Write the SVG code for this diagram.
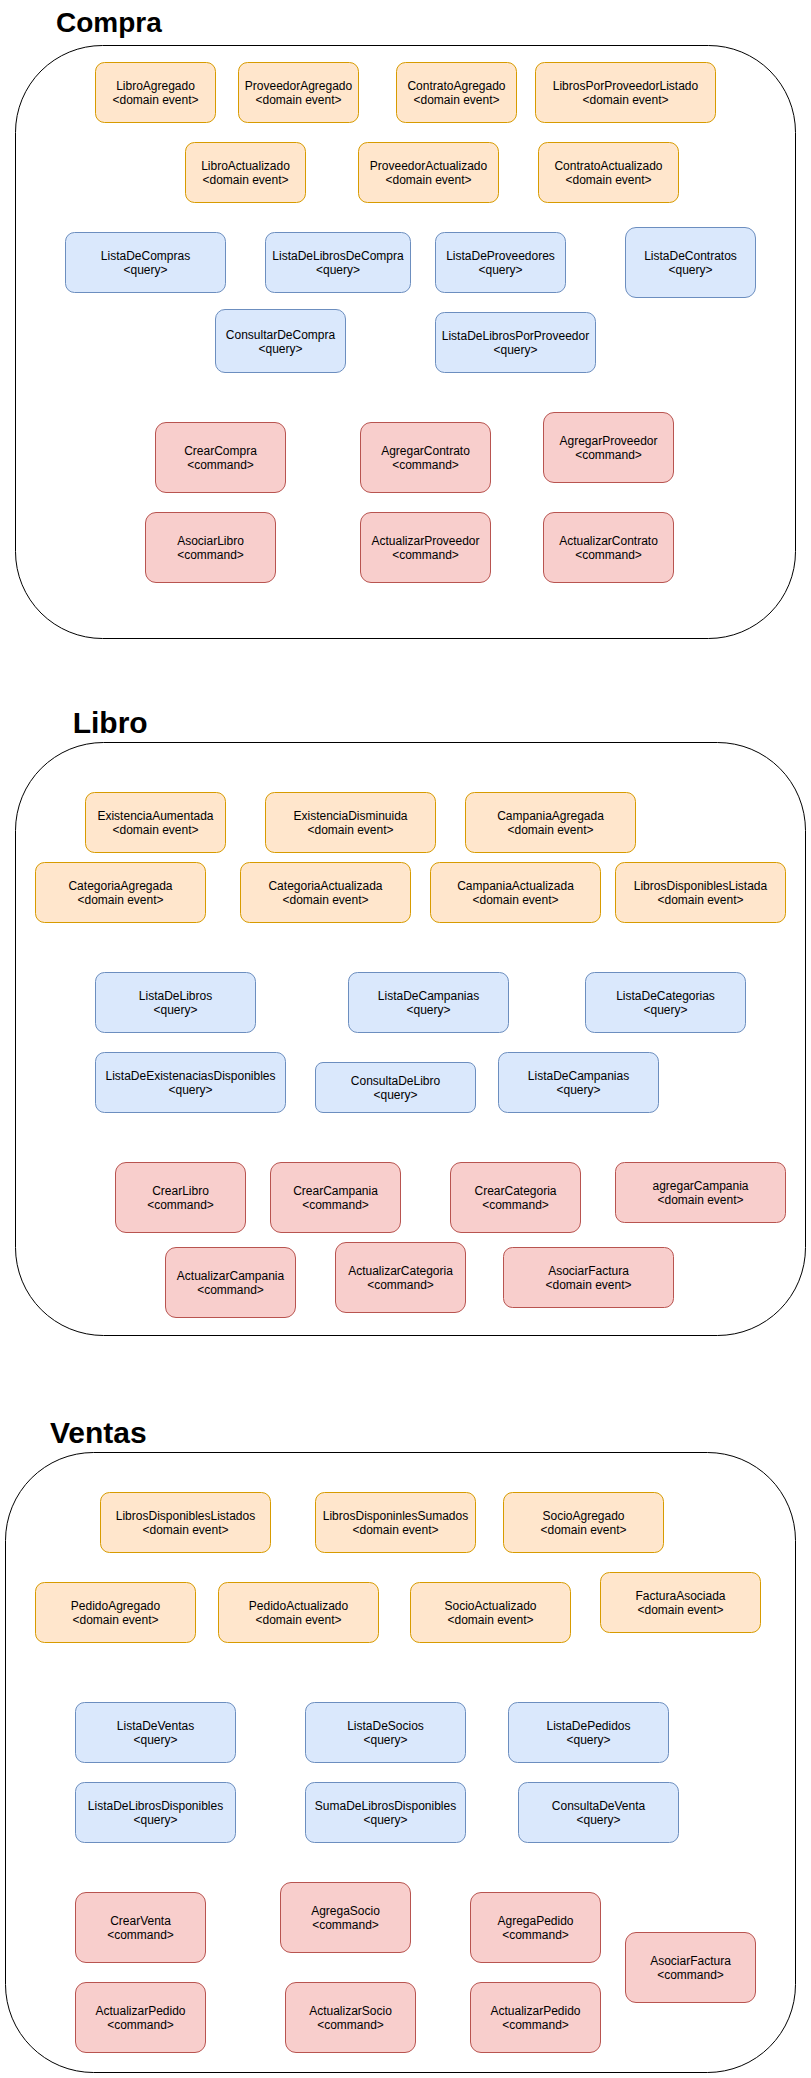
<svg xmlns="http://www.w3.org/2000/svg" width="811" height="2078" viewBox="0 0 811 2078">
<style>
.bg{fill:#ffffff}
.ctr{fill:#ffffff;stroke:#000000;stroke-width:1}
.title{font-family:"Liberation Sans",Arial,Helvetica,sans-serif;font-weight:bold;fill:#000000}
.ev{fill:#ffe6cc;stroke:#d79b00;stroke-width:1}
.q{fill:#dae8fc;stroke:#6c8ebf;stroke-width:1}
.cmd{fill:#f8cecc;stroke:#b85450;stroke-width:1}
.t{font-family:"Liberation Sans",Arial,Helvetica,sans-serif;font-size:12px;fill:#000000;text-anchor:middle}
</style>
<rect class="bg" x="0" y="0" width="811" height="2078"/>

<!-- ===== Compra ===== -->
<g id="compra">
<text class="title" x="56" y="32.3" font-size="28">Compra</text>
<rect class="ctr" x="15.5" y="45.5" width="780" height="593" rx="87" ry="87"/>
</g>
<g id="c-LibroAgregado"><rect class="ev" x="95.5" y="62.5" width="120" height="60" rx="9"/><text class="t"><tspan x="155.5" y="90.3">LibroAgregado</tspan><tspan x="155.5" y="104.3">&lt;domain event&gt;</tspan></text></g>
<g id="c-ProveedorAgregado"><rect class="ev" x="238.5" y="62.5" width="120" height="60" rx="9"/><text class="t"><tspan x="298.5" y="90.3">ProveedorAgregado</tspan><tspan x="298.5" y="104.3">&lt;domain event&gt;</tspan></text></g>
<g id="c-ContratoAgregado"><rect class="ev" x="396.5" y="62.5" width="120" height="60" rx="9"/><text class="t"><tspan x="456.5" y="90.3">ContratoAgregado</tspan><tspan x="456.5" y="104.3">&lt;domain event&gt;</tspan></text></g>
<g id="c-LibrosPorProveedorListado"><rect class="ev" x="535.5" y="62.5" width="180" height="60" rx="9"/><text class="t"><tspan x="625.5" y="90.3">LibrosPorProveedorListado</tspan><tspan x="625.5" y="104.3">&lt;domain event&gt;</tspan></text></g>
<g id="c-LibroActualizado"><rect class="ev" x="185.5" y="142.5" width="120" height="60" rx="9"/><text class="t"><tspan x="245.5" y="170.3">LibroActualizado</tspan><tspan x="245.5" y="184.3">&lt;domain event&gt;</tspan></text></g>
<g id="c-ProveedorActualizado"><rect class="ev" x="358.5" y="142.5" width="140" height="60" rx="9"/><text class="t"><tspan x="428.5" y="170.3">ProveedorActualizado</tspan><tspan x="428.5" y="184.3">&lt;domain event&gt;</tspan></text></g>
<g id="c-ContratoActualizado"><rect class="ev" x="538.5" y="142.5" width="140" height="60" rx="9"/><text class="t"><tspan x="608.5" y="170.3">ContratoActualizado</tspan><tspan x="608.5" y="184.3">&lt;domain event&gt;</tspan></text></g>
<g id="c-ListaDeCompras"><rect class="q" x="65.5" y="232.5" width="160" height="60" rx="9"/><text class="t"><tspan x="145.5" y="260.3">ListaDeCompras</tspan><tspan x="145.5" y="274.3">&lt;query&gt;</tspan></text></g>
<g id="c-ListaDeLibrosDeCompra"><rect class="q" x="265.5" y="232.5" width="145" height="60" rx="9"/><text class="t"><tspan x="338" y="260.3">ListaDeLibrosDeCompra</tspan><tspan x="338" y="274.3">&lt;query&gt;</tspan></text></g>
<g id="c-ListaDeProveedores"><rect class="q" x="435.5" y="232.5" width="130" height="60" rx="9"/><text class="t"><tspan x="500.5" y="260.3">ListaDeProveedores</tspan><tspan x="500.5" y="274.3">&lt;query&gt;</tspan></text></g>
<g id="c-ListaDeContratos"><rect class="q" x="625.5" y="227.5" width="130" height="70" rx="10.5"/><text class="t"><tspan x="690.5" y="260.3">ListaDeContratos</tspan><tspan x="690.5" y="274.3">&lt;query&gt;</tspan></text></g>
<g id="c-ConsultarDeCompra"><rect class="q" x="215.5" y="309.5" width="130" height="63" rx="9.5"/><text class="t"><tspan x="280.5" y="338.8">ConsultarDeCompra</tspan><tspan x="280.5" y="352.8">&lt;query&gt;</tspan></text></g>
<g id="c-ListaDeLibrosPorProveedor"><rect class="q" x="435.5" y="312.5" width="160" height="60" rx="9"/><text class="t"><tspan x="515.5" y="340.3">ListaDeLibrosPorProveedor</tspan><tspan x="515.5" y="354.3">&lt;query&gt;</tspan></text></g>
<g id="c-CrearCompra"><rect class="cmd" x="155.5" y="422.5" width="130" height="70" rx="10.5"/><text class="t"><tspan x="220.5" y="455.3">CrearCompra</tspan><tspan x="220.5" y="469.3">&lt;command&gt;</tspan></text></g>
<g id="c-AgregarContrato"><rect class="cmd" x="360.5" y="422.5" width="130" height="70" rx="10.5"/><text class="t"><tspan x="425.5" y="455.3">AgregarContrato</tspan><tspan x="425.5" y="469.3">&lt;command&gt;</tspan></text></g>
<g id="c-AgregarProveedor"><rect class="cmd" x="543.5" y="412.5" width="130" height="70" rx="10.5"/><text class="t"><tspan x="608.5" y="445.3">AgregarProveedor</tspan><tspan x="608.5" y="459.3">&lt;command&gt;</tspan></text></g>
<g id="c-AsociarLibro"><rect class="cmd" x="145.5" y="512.5" width="130" height="70" rx="10.5"/><text class="t"><tspan x="210.5" y="545.3">AsociarLibro</tspan><tspan x="210.5" y="559.3">&lt;command&gt;</tspan></text></g>
<g id="c-ActualizarProveedor"><rect class="cmd" x="360.5" y="512.5" width="130" height="70" rx="10.5"/><text class="t"><tspan x="425.5" y="545.3">ActualizarProveedor</tspan><tspan x="425.5" y="559.3">&lt;command&gt;</tspan></text></g>
<g id="c-ActualizarContrato"><rect class="cmd" x="543.5" y="512.5" width="130" height="70" rx="10.5"/><text class="t"><tspan x="608.5" y="545.3">ActualizarContrato</tspan><tspan x="608.5" y="559.3">&lt;command&gt;</tspan></text></g>

<!-- ===== Libro ===== -->
<g id="libro">
<text class="title" x="72.7" y="732.7" font-size="30">Libro</text>
<rect class="ctr" x="15.5" y="742.5" width="790" height="593" rx="88" ry="88"/>
</g>
<g id="l-ExistenciaAumentada"><rect class="ev" x="85.5" y="792.5" width="140" height="60" rx="9"/><text class="t"><tspan x="155.5" y="820.3">ExistenciaAumentada</tspan><tspan x="155.5" y="834.3">&lt;domain event&gt;</tspan></text></g>
<g id="l-ExistenciaDisminuida"><rect class="ev" x="265.5" y="792.5" width="170" height="60" rx="9"/><text class="t"><tspan x="350.5" y="820.3">ExistenciaDisminuida</tspan><tspan x="350.5" y="834.3">&lt;domain event&gt;</tspan></text></g>
<g id="l-CampaniaAgregada"><rect class="ev" x="465.5" y="792.5" width="170" height="60" rx="9"/><text class="t"><tspan x="550.5" y="820.3">CampaniaAgregada</tspan><tspan x="550.5" y="834.3">&lt;domain event&gt;</tspan></text></g>
<g id="l-CategoriaAgregada"><rect class="ev" x="35.5" y="862.5" width="170" height="60" rx="9"/><text class="t"><tspan x="120.5" y="890.3">CategoriaAgregada</tspan><tspan x="120.5" y="904.3">&lt;domain event&gt;</tspan></text></g>
<g id="l-CategoriaActualizada"><rect class="ev" x="240.5" y="862.5" width="170" height="60" rx="9"/><text class="t"><tspan x="325.5" y="890.3">CategoriaActualizada</tspan><tspan x="325.5" y="904.3">&lt;domain event&gt;</tspan></text></g>
<g id="l-CampaniaActualizada"><rect class="ev" x="430.5" y="862.5" width="170" height="60" rx="9"/><text class="t"><tspan x="515.5" y="890.3">CampaniaActualizada</tspan><tspan x="515.5" y="904.3">&lt;domain event&gt;</tspan></text></g>
<g id="l-LibrosDisponiblesListada"><rect class="ev" x="615.5" y="862.5" width="170" height="60" rx="9"/><text class="t"><tspan x="700.5" y="890.3">LibrosDisponiblesListada</tspan><tspan x="700.5" y="904.3">&lt;domain event&gt;</tspan></text></g>
<g id="l-ListaDeLibros"><rect class="q" x="95.5" y="972.5" width="160" height="60" rx="9"/><text class="t"><tspan x="175.5" y="1000.3">ListaDeLibros</tspan><tspan x="175.5" y="1014.3">&lt;query&gt;</tspan></text></g>
<g id="l-ListaDeCampanias"><rect class="q" x="348.5" y="972.5" width="160" height="60" rx="9"/><text class="t"><tspan x="428.5" y="1000.3">ListaDeCampanias</tspan><tspan x="428.5" y="1014.3">&lt;query&gt;</tspan></text></g>
<g id="l-ListaDeCategorias"><rect class="q" x="585.5" y="972.5" width="160" height="60" rx="9"/><text class="t"><tspan x="665.5" y="1000.3">ListaDeCategorias</tspan><tspan x="665.5" y="1014.3">&lt;query&gt;</tspan></text></g>
<g id="l-ListaDeExistenaciasDisponibles"><rect class="q" x="95.5" y="1052.5" width="190" height="60" rx="9"/><text class="t"><tspan x="190.5" y="1080.3">ListaDeExistenaciasDisponibles</tspan><tspan x="190.5" y="1094.3">&lt;query&gt;</tspan></text></g>
<g id="l-ConsultaDeLibro"><rect class="q" x="315.5" y="1062.5" width="160" height="50" rx="7.5"/><text class="t"><tspan x="395.5" y="1085.3">ConsultaDeLibro</tspan><tspan x="395.5" y="1099.3">&lt;query&gt;</tspan></text></g>
<g id="l-ListaDeCampanias2"><rect class="q" x="498.5" y="1052.5" width="160" height="60" rx="9"/><text class="t"><tspan x="578.5" y="1080.3">ListaDeCampanias</tspan><tspan x="578.5" y="1094.3">&lt;query&gt;</tspan></text></g>
<g id="l-CrearLibro"><rect class="cmd" x="115.5" y="1162.5" width="130" height="70" rx="10.5"/><text class="t"><tspan x="180.5" y="1195.3">CrearLibro</tspan><tspan x="180.5" y="1209.3">&lt;command&gt;</tspan></text></g>
<g id="l-CrearCampania"><rect class="cmd" x="270.5" y="1162.5" width="130" height="70" rx="10.5"/><text class="t"><tspan x="335.5" y="1195.3">CrearCampania</tspan><tspan x="335.5" y="1209.3">&lt;command&gt;</tspan></text></g>
<g id="l-CrearCategoria"><rect class="cmd" x="450.5" y="1162.5" width="130" height="70" rx="10.5"/><text class="t"><tspan x="515.5" y="1195.3">CrearCategoria</tspan><tspan x="515.5" y="1209.3">&lt;command&gt;</tspan></text></g>
<g id="l-agregarCampania"><rect class="cmd" x="615.5" y="1162.5" width="170" height="60" rx="9"/><text class="t"><tspan x="700.5" y="1190.3">agregarCampania</tspan><tspan x="700.5" y="1204.3">&lt;domain event&gt;</tspan></text></g>
<g id="l-ActualizarCampania"><rect class="cmd" x="165.5" y="1247.5" width="130" height="70" rx="10.5"/><text class="t"><tspan x="230.5" y="1280.3">ActualizarCampania</tspan><tspan x="230.5" y="1294.3">&lt;command&gt;</tspan></text></g>
<g id="l-ActualizarCategoria"><rect class="cmd" x="335.5" y="1242.5" width="130" height="70" rx="10.5"/><text class="t"><tspan x="400.5" y="1275.3">ActualizarCategoria</tspan><tspan x="400.5" y="1289.3">&lt;command&gt;</tspan></text></g>
<g id="l-AsociarFactura"><rect class="cmd" x="503.5" y="1247.5" width="170" height="60" rx="9"/><text class="t"><tspan x="588.5" y="1275.3">AsociarFactura</tspan><tspan x="588.5" y="1289.3">&lt;domain event&gt;</tspan></text></g>

<!-- ===== Ventas ===== -->
<g id="ventas">
<text class="title" x="50" y="1443.3" font-size="30">Ventas</text>
<rect class="ctr" x="5.5" y="1452.5" width="790" height="620" rx="88" ry="88"/>
</g>
<g id="v-LibrosDisponiblesListados"><rect class="ev" x="100.5" y="1492.5" width="170" height="60" rx="9"/><text class="t"><tspan x="185.5" y="1520.3">LibrosDisponiblesListados</tspan><tspan x="185.5" y="1534.3">&lt;domain event&gt;</tspan></text></g>
<g id="v-LibrosDisponinlesSumados"><rect class="ev" x="315.5" y="1492.5" width="160" height="60" rx="9"/><text class="t"><tspan x="395.5" y="1520.3">LibrosDisponinlesSumados</tspan><tspan x="395.5" y="1534.3">&lt;domain event&gt;</tspan></text></g>
<g id="v-SocioAgregado"><rect class="ev" x="503.5" y="1492.5" width="160" height="60" rx="9"/><text class="t"><tspan x="583.5" y="1520.3">SocioAgregado</tspan><tspan x="583.5" y="1534.3">&lt;domain event&gt;</tspan></text></g>
<g id="v-PedidoAgregado"><rect class="ev" x="35.5" y="1582.5" width="160" height="60" rx="9"/><text class="t"><tspan x="115.5" y="1610.3">PedidoAgregado</tspan><tspan x="115.5" y="1624.3">&lt;domain event&gt;</tspan></text></g>
<g id="v-PedidoActualizado"><rect class="ev" x="218.5" y="1582.5" width="160" height="60" rx="9"/><text class="t"><tspan x="298.5" y="1610.3">PedidoActualizado</tspan><tspan x="298.5" y="1624.3">&lt;domain event&gt;</tspan></text></g>
<g id="v-SocioActualizado"><rect class="ev" x="410.5" y="1582.5" width="160" height="60" rx="9"/><text class="t"><tspan x="490.5" y="1610.3">SocioActualizado</tspan><tspan x="490.5" y="1624.3">&lt;domain event&gt;</tspan></text></g>
<g id="v-FacturaAsociada"><rect class="ev" x="600.5" y="1572.5" width="160" height="60" rx="9"/><text class="t"><tspan x="680.5" y="1600.3">FacturaAsociada</tspan><tspan x="680.5" y="1614.3">&lt;domain event&gt;</tspan></text></g>
<g id="v-ListaDeVentas"><rect class="q" x="75.5" y="1702.5" width="160" height="60" rx="9"/><text class="t"><tspan x="155.5" y="1730.3">ListaDeVentas</tspan><tspan x="155.5" y="1744.3">&lt;query&gt;</tspan></text></g>
<g id="v-ListaDeSocios"><rect class="q" x="305.5" y="1702.5" width="160" height="60" rx="9"/><text class="t"><tspan x="385.5" y="1730.3">ListaDeSocios</tspan><tspan x="385.5" y="1744.3">&lt;query&gt;</tspan></text></g>
<g id="v-ListaDePedidos"><rect class="q" x="508.5" y="1702.5" width="160" height="60" rx="9"/><text class="t"><tspan x="588.5" y="1730.3">ListaDePedidos</tspan><tspan x="588.5" y="1744.3">&lt;query&gt;</tspan></text></g>
<g id="v-ListaDeLibrosDisponibles"><rect class="q" x="75.5" y="1782.5" width="160" height="60" rx="9"/><text class="t"><tspan x="155.5" y="1810.3">ListaDeLibrosDisponibles</tspan><tspan x="155.5" y="1824.3">&lt;query&gt;</tspan></text></g>
<g id="v-SumaDeLibrosDisponibles"><rect class="q" x="305.5" y="1782.5" width="160" height="60" rx="9"/><text class="t"><tspan x="385.5" y="1810.3">SumaDeLibrosDisponibles</tspan><tspan x="385.5" y="1824.3">&lt;query&gt;</tspan></text></g>
<g id="v-ConsultaDeVenta"><rect class="q" x="518.5" y="1782.5" width="160" height="60" rx="9"/><text class="t"><tspan x="598.5" y="1810.3">ConsultaDeVenta</tspan><tspan x="598.5" y="1824.3">&lt;query&gt;</tspan></text></g>
<g id="v-CrearVenta"><rect class="cmd" x="75.5" y="1892.5" width="130" height="70" rx="10.5"/><text class="t"><tspan x="140.5" y="1925.3">CrearVenta</tspan><tspan x="140.5" y="1939.3">&lt;command&gt;</tspan></text></g>
<g id="v-AgregaSocio"><rect class="cmd" x="280.5" y="1882.5" width="130" height="70" rx="10.5"/><text class="t"><tspan x="345.5" y="1915.3">AgregaSocio</tspan><tspan x="345.5" y="1929.3">&lt;command&gt;</tspan></text></g>
<g id="v-AgregaPedido"><rect class="cmd" x="470.5" y="1892.5" width="130" height="70" rx="10.5"/><text class="t"><tspan x="535.5" y="1925.3">AgregaPedido</tspan><tspan x="535.5" y="1939.3">&lt;command&gt;</tspan></text></g>
<g id="v-AsociarFactura"><rect class="cmd" x="625.5" y="1932.5" width="130" height="70" rx="10.5"/><text class="t"><tspan x="690.5" y="1965.3">AsociarFactura</tspan><tspan x="690.5" y="1979.3">&lt;command&gt;</tspan></text></g>
<g id="v-ActualizarPedido1"><rect class="cmd" x="75.5" y="1982.5" width="130" height="70" rx="10.5"/><text class="t"><tspan x="140.5" y="2015.3">ActualizarPedido</tspan><tspan x="140.5" y="2029.3">&lt;command&gt;</tspan></text></g>
<g id="v-ActualizarSocio"><rect class="cmd" x="285.5" y="1982.5" width="130" height="70" rx="10.5"/><text class="t"><tspan x="350.5" y="2015.3">ActualizarSocio</tspan><tspan x="350.5" y="2029.3">&lt;command&gt;</tspan></text></g>
<g id="v-ActualizarPedido2"><rect class="cmd" x="470.5" y="1982.5" width="130" height="70" rx="10.5"/><text class="t"><tspan x="535.5" y="2015.3">ActualizarPedido</tspan><tspan x="535.5" y="2029.3">&lt;command&gt;</tspan></text></g>

<g id="connectors"></g>
</svg>
